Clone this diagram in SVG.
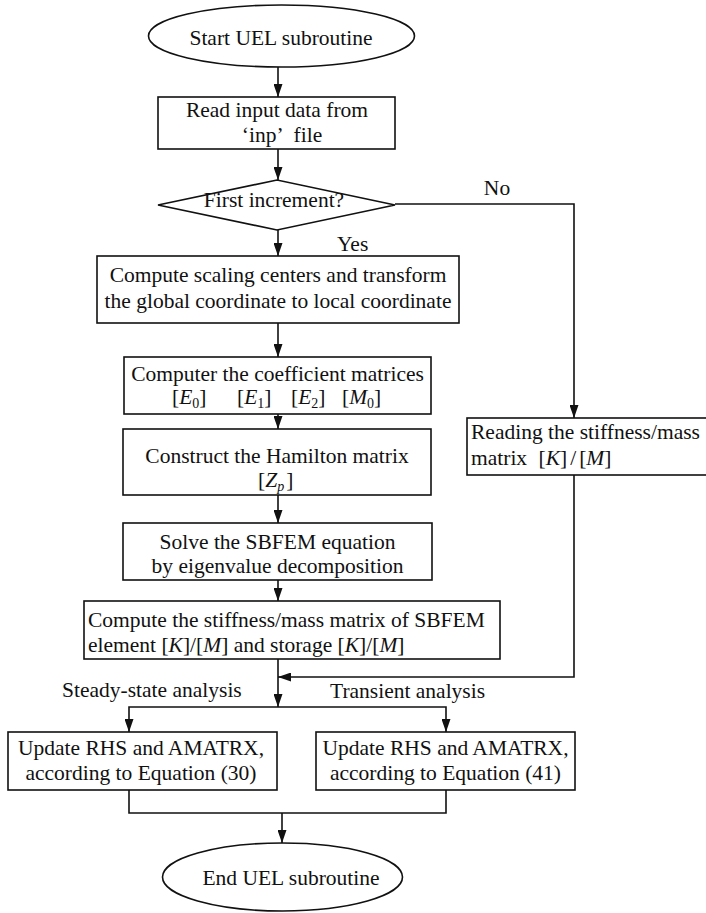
<svg xmlns="http://www.w3.org/2000/svg" width="706" height="913" viewBox="0 0 706 913" font-family="'Liberation Serif', Tinos, 'Times New Roman', Times, 'DejaVu Serif', serif">
<style>
.n{fill:#fff;stroke:#111;stroke-width:1.6}
.c{fill:none;stroke:#111;stroke-width:1.6}
text{font-family:'Liberation Serif', Tinos, 'Times New Roman', Times, 'DejaVu Serif', serif;font-size:21.5px;fill:#111}
.m{text-anchor:middle}
.i{font-style:italic}
.s{font-size:14px}
</style>
<defs>
<marker id="arr" viewBox="0 0 13 9" refX="13" refY="4.5" markerWidth="13" markerHeight="9" orient="auto" markerUnits="userSpaceOnUse">
<path d="M0,0 L13,4.5 L0,9 z" fill="#111"/>
</marker>
</defs>
<rect width="706" height="913" fill="#fff"/>
<g id="connectors">
<path class="c" d="M278,67 V97" marker-end="url(#arr)"/>
<path class="c" d="M278,149 V180" marker-end="url(#arr)"/>
<path class="c" d="M278,230 V256" marker-end="url(#arr)"/>
<path class="c" d="M395,204 H574 V418" marker-end="url(#arr)"/>
<path class="c" d="M278,323 V357" marker-end="url(#arr)"/>
<path class="c" d="M278,414 V429" marker-end="url(#arr)"/>
<path class="c" d="M278,495 V523" marker-end="url(#arr)"/>
<path class="c" d="M278,580 V601" marker-end="url(#arr)"/>
<path class="c" d="M278,659 V707" marker-end="url(#arr)"/>
<path class="c" d="M574,475 V677 H278" marker-end="url(#arr)"/>
<path class="c" d="M278,707 H129 V732" marker-end="url(#arr)"/>
<path class="c" d="M278,707 H446 V732" marker-end="url(#arr)"/>
<path class="c" d="M129,790 V813 H446 V790"/>
<path class="c" d="M282,813 V843" marker-end="url(#arr)"/>
<text x="497" y="195" class="m">No</text>
<text x="337" y="251">Yes</text>
<text x="62" y="697">Steady-state analysis</text>
<text x="330" y="698">Transient analysis</text>
</g>
<g id="start">
<ellipse class="n" cx="281.5" cy="36" rx="133" ry="31"/>
<text x="281" y="45" class="m">Start UEL subroutine</text>
</g>
<g id="read">
<rect class="n" x="158" y="97" width="237" height="52"/>
<text x="277" y="117" class="m">Read input data from</text>
<text x="282" y="142" class="m">‘inp’<tspan dx="10">file</tspan></text>
</g>
<g id="decision">
<polygon class="n" points="158,205 277,180 395,205 277,230"/>
<text x="274" y="207" class="m">First increment?</text>
</g>
<g id="scaling">
<rect class="n" x="97" y="256" width="362" height="67"/>
<text x="278" y="282" class="m">Compute scaling centers and transform</text>
<text x="278" y="308" class="m">the global coordinate to local coordinate</text>
</g>
<g id="coefficients">
<rect class="n" x="124" y="357" width="307" height="57"/>
<text x="277.5" y="381" class="m">Computer the coefficient matrices</text>
<text x="172" y="404">[<tspan class="i">E</tspan><tspan class="s" dy="4">0</tspan><tspan dy="-4">]</tspan></text>
<text x="237" y="404">[<tspan class="i">E</tspan><tspan class="s" dy="4">1</tspan><tspan dy="-4">]</tspan></text>
<text x="291" y="404">[<tspan class="i">E</tspan><tspan class="s" dy="4">2</tspan><tspan dy="-4">]</tspan></text>
<text x="342" y="404">[<tspan class="i">M</tspan><tspan class="s" dy="4">0</tspan><tspan dy="-4">]</tspan></text>
</g>
<g id="hamilton">
<rect class="n" x="123" y="429" width="308" height="66"/>
<text x="277" y="463" class="m">Construct the Hamilton matrix</text>
<text x="258" y="487">[<tspan class="i">Z</tspan><tspan class="s i" dy="4">p</tspan><tspan dy="-4" dx="2">]</tspan></text>
</g>
<g id="solve">
<rect class="n" x="123" y="523" width="309" height="57"/>
<text x="277.5" y="549" class="m">Solve the SBFEM equation</text>
<text x="277.5" y="573" class="m">by eigenvalue decomposition</text>
</g>
<g id="stiffness">
<rect class="n" x="84" y="601" width="416" height="58"/>
<text x="88" y="627">Compute the stiffness/mass matrix of SBFEM</text>
<text x="88" y="652">element [<tspan class="i">K</tspan>]/[<tspan class="i">M</tspan>] and storage [<tspan class="i">K</tspan>]/[<tspan class="i">M</tspan>]</text>
</g>
<g id="reading">
<rect class="n" x="467" y="418" width="242" height="57"/>
<text x="471" y="439">Reading the stiffness/mass</text>
<text x="471" y="465">matrix <tspan dx="6">[</tspan><tspan class="i">K</tspan>]<tspan dx="3">/</tspan><tspan dx="3">[</tspan><tspan class="i">M</tspan>]</text>
</g>
<g id="steady">
<rect class="n" x="8" y="732" width="269" height="58"/>
<text x="141" y="755" class="m">Update RHS and AMATRX,</text>
<text x="141" y="780" class="m">according to Equation (30)</text>
</g>
<g id="transient">
<rect class="n" x="316" y="732" width="259" height="58"/>
<text x="445.5" y="755" class="m">Update RHS and AMATRX,</text>
<text x="445.5" y="780" class="m">according to Equation (41)</text>
</g>
<g id="end">
<ellipse class="n" cx="282.5" cy="877" rx="120" ry="34"/>
<text x="291" y="885" class="m">End UEL subroutine</text>
</g>
</svg>
